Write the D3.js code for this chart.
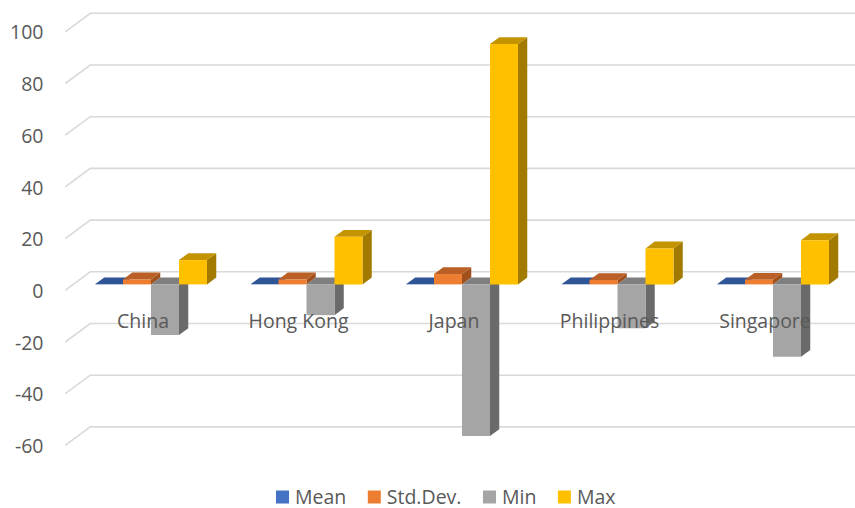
<!DOCTYPE html>
<html>
<head>
<meta charset="utf-8">
<script src="https://cdn.jsdelivr.net/npm/d3@7"></script>
<style>
  body { margin: 0; background: #ffffff; }
  svg text { font-family: "Open Sans", "Noto Sans", sans-serif; fill: #595959; }
</style>
</head>
<body>
<svg id="chart" width="855" height="508"></svg>
<script>
// Summary statistics per market
const categories = ["China", "Hong Kong", "Japan", "Philippines", "Singapore"];
const seriesNames = ["Mean", "Std.Dev.", "Min", "Max"];
const meanValues = [0.05, 0.04, 0.05, 0.03, 0.04];
const stdDevValues = [1.9, 1.9, 4.0, 1.7, 1.8];
const minValues = [-19.6, -11.9, -58.7, -17.0, -28.0];
const maxValues = [9.4, 18.4, 93.0, 13.9, 17.1];
const yTickValues = [-60, -40, -20, 0, 20, 40, 60, 80, 100];

const seriesValues = [meanValues, stdDevValues, minValues, maxValues];
const frontColors = ["#4472C4", "#ED7D31", "#A5A5A5", "#FFC000"];
const topColors   = ["#2F5597", "#BA5F25", "#7F7F7F", "#C49300"];
const sideColors  = ["#26477F", "#A0501C", "#6A6A6A", "#A27A00"];

const W = 855, H = 508;
const svg = d3.select("#chart");

// Oblique projection: z = 0 is the front plane, z = 1 the back wall
const DX = 25, DY = -18.5;
const Z0 = 0.32, Z1 = 0.69;   // depth extent of the columns

const y = d3.scaleLinear().domain([-60, 100]).range([445.4, 31.8]);
const x = d3.scaleBand().domain(categories).range([65.25, 842.75]).paddingInner(0).paddingOuter(0);
const groupWidth = 112;
const xs = d3.scaleBand().domain(seriesNames).range([0, groupWidth]);

function P(px, v, z) { return [px + z * DX, y(v) + z * DY]; }
const poly = pts => pts.map(p => p.join(",")).join(" ");

// Gridlines: diagonal on the side wall and horizontal on the back wall
const grid = svg.append("g").attr("stroke", "#D9D9D9").attr("stroke-width", 1.6).attr("fill", "none");
const left = x.range()[0];
yTickValues.forEach(v => {
  const a = P(left, v, 0), b = P(left, v, 1);
  grid.append("polyline").attr("points", poly([a, b, [W + 5, b[1]]]));
});

// Value axis labels
svg.append("g").selectAll("text").data(yTickValues).join("text")
  .attr("x", 43.5).attr("y", d => y(d) + 7.6)
  .attr("text-anchor", "end").attr("font-size", 19.5)
  .text(d => d);

// Columns, painted left to right so later columns overlap earlier side faces
const bars = svg.append("g");
categories.forEach((cat, ci) => {
  const gx = x(cat) + (x.bandwidth() - groupWidth) / 2;
  seriesNames.forEach((s, si) => {
    const v = seriesValues[si][ci];
    const xl = gx + xs(s), xr = xl + xs.bandwidth();
    const top = Math.max(v, 0), bot = Math.min(v, 0);
    const g = bars.append("g");
    g.append("polygon").attr("fill", sideColors[si])
      .attr("points", poly([P(xr, top, Z0), P(xr, top, Z1), P(xr, bot, Z1), P(xr, bot, Z0)]));
    g.append("polygon").attr("fill", topColors[si])
      .attr("points", poly([P(xl, top, Z0), P(xr, top, Z0), P(xr, top, Z1), P(xl, top, Z1)]));
    g.append("polygon").attr("fill", frontColors[si])
      .attr("points", poly([P(xl, top, Z0), P(xr, top, Z0), P(xr, bot, Z0), P(xl, bot, Z0)]));
  });
});

// Category labels on the front plane
svg.append("g").selectAll("text").data(categories).join("text")
  .attr("x", d => x(d) + x.bandwidth() / 2).attr("y", 327.5)
  .attr("text-anchor", "middle").attr("font-size", 19.5)
  .text(d => d);

// Legend
const legend = svg.append("g");
let lx = 276;
seriesNames.forEach((s, si) => {
  legend.append("rect").attr("x", lx).attr("y", 490.5).attr("width", 13).attr("height", 13)
    .attr("fill", frontColors[si]);
  const t = legend.append("text").attr("x", lx + 19).attr("y", 503.5)
    .attr("font-size", 19.5).text(s);
  lx += 19 + t.node().getComputedTextLength() + 21.5;
});
</script>
</body>
</html>
